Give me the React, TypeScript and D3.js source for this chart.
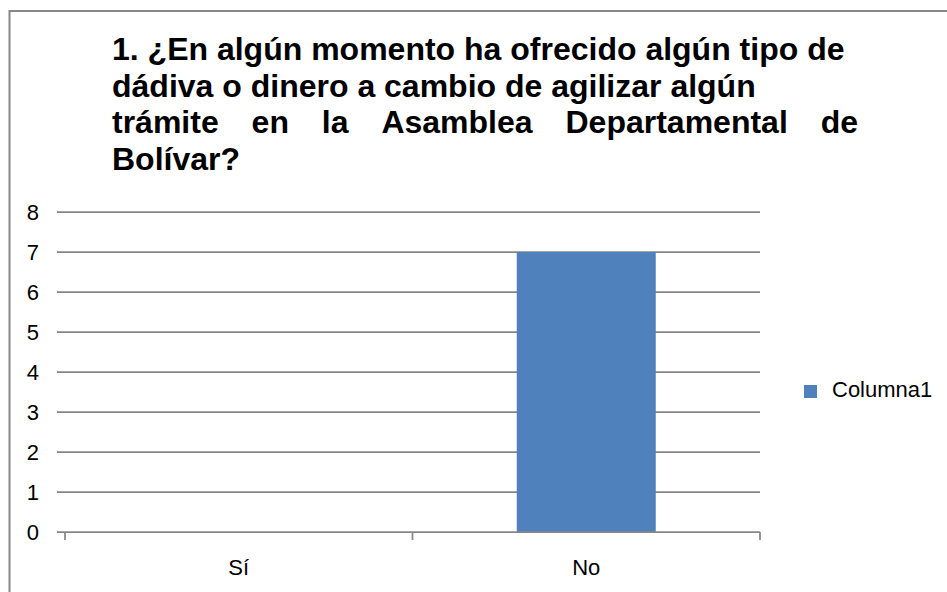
import { useEffect, useRef } from "react";
import * as d3 from "d3";

const categories = ["Sí", "No"];
const columna1 = [0, 7];
const yTicks = [0, 1, 2, 3, 4, 5, 6, 7, 8];
const seriesName = "Columna1";
const titleLines = [
  "1. ¿En algún momento ha ofrecido algún tipo de",
  "dádiva o dinero a cambio de agilizar algún",
  "trámite en la Asamblea Departamental de",
  "Bolívar?",
];

const App = () => {
  const ref = useRef<SVGSVGElement>(null);

  useEffect(() => {
    const width = 947, height = 592;
    const left = 65, right = 760, top = 212, bottom = 532;
    const font = "'Liberation Sans', Arial, sans-serif";
    const grey = "#878787";

    const svg = d3.select(ref.current)
      .html("")
      .attr("width", width)
      .attr("height", height);

    svg.append("rect")
      .attr("width", width)
      .attr("height", height)
      .attr("fill", "#fff");

    // chart frame (right and bottom edges fall outside the picture)
    svg.append("rect")
      .attr("x", 9.5)
      .attr("y", 11)
      .attr("width", 1000)
      .attr("height", 1000)
      .attr("fill", "none")
      .attr("stroke", grey)
      .attr("stroke-width", 2);

    // title, third line is justified like in the original
    const title = svg.append("g")
      .attr("font-family", font)
      .attr("font-size", 32)
      .attr("font-weight", "bold")
      .attr("fill", "#000");
    const tx = 112, justifyRight = 858;
    titleLines.forEach((line, i) => {
      if (i === 2) return;
      title.append("text").attr("x", tx).attr("y", 60 + i * 36.7).text(line);
    });
    const words = titleLines[2].split(" ");
    const wordNodes = words.map(w => title.append("text").attr("y", 60 + 2 * 36.7).text(w));
    const widths = wordNodes.map(n => (n.node() as SVGTextElement).getComputedTextLength());
    const gap = (justifyRight - tx - d3.sum(widths)) / (words.length - 1);
    let cx = tx;
    wordNodes.forEach((n, i) => {
      n.attr("x", cx);
      cx += widths[i] + gap;
    });

    const x = d3.scaleBand().domain(categories).range([left, right]).paddingInner(0).paddingOuter(0);
    const y = d3.scaleLinear().domain([0, 8]).range([bottom, top]);

    // gridlines + y labels
    svg.append("g")
      .selectAll("line")
      .data(yTicks.filter(t => t > 0))
      .enter()
      .append("line")
      .attr("x1", left - 8)
      .attr("x2", right)
      .attr("y1", d => y(d))
      .attr("y2", d => y(d))
      .attr("stroke", grey)
      .attr("stroke-width", 1.75);

    svg.append("g")
      .selectAll("text")
      .data(yTicks)
      .enter()
      .append("text")
      .attr("x", 39)
      .attr("y", d => y(d) + 8)
      .attr("text-anchor", "end")
      .attr("font-family", font)
      .attr("font-size", 22)
      .text(d => d);

    // bars
    const bw = x.bandwidth();
    svg.append("g")
      .selectAll("rect")
      .data(categories.map((c, i) => ({ c, v: columna1[i] })).filter(d => d.v > 0))
      .enter()
      .append("rect")
      .attr("x", d => (x(d.c) as number) + bw * 0.3)
      .attr("width", bw * 0.4)
      .attr("y", d => y(d.v))
      .attr("height", d => bottom - y(d.v))
      .attr("fill", "#4F81BD");

    // x axis
    svg.append("line")
      .attr("x1", left - 8)
      .attr("x2", right)
      .attr("y1", bottom)
      .attr("y2", bottom)
      .attr("stroke", grey)
      .attr("stroke-width", 1.75);

    const edges = [left, ...categories.map(c => (x(c) as number) + bw)];
    svg.append("g")
      .selectAll("line")
      .data(edges)
      .enter()
      .append("line")
      .attr("x1", d => d)
      .attr("x2", d => d)
      .attr("y1", bottom)
      .attr("y2", bottom + 8)
      .attr("stroke", grey)
      .attr("stroke-width", 1.75);

    svg.append("g")
      .selectAll("text")
      .data(categories)
      .enter()
      .append("text")
      .attr("x", d => (x(d) as number) + bw / 2)
      .attr("y", 575)
      .attr("text-anchor", "middle")
      .attr("font-family", font)
      .attr("font-size", 22)
      .text(d => d);

    // legend
    svg.append("rect")
      .attr("x", 804)
      .attr("y", 385)
      .attr("width", 13)
      .attr("height", 13)
      .attr("fill", "#4F81BD");

    svg.append("text")
      .attr("x", 832)
      .attr("y", 397)
      .attr("font-family", font)
      .attr("font-size", 22)
      .text(seriesName);
  }, []);

  return <svg ref={ref} style={{ position: "absolute", left: 0, top: 0 }}></svg>;
};

export default App;
